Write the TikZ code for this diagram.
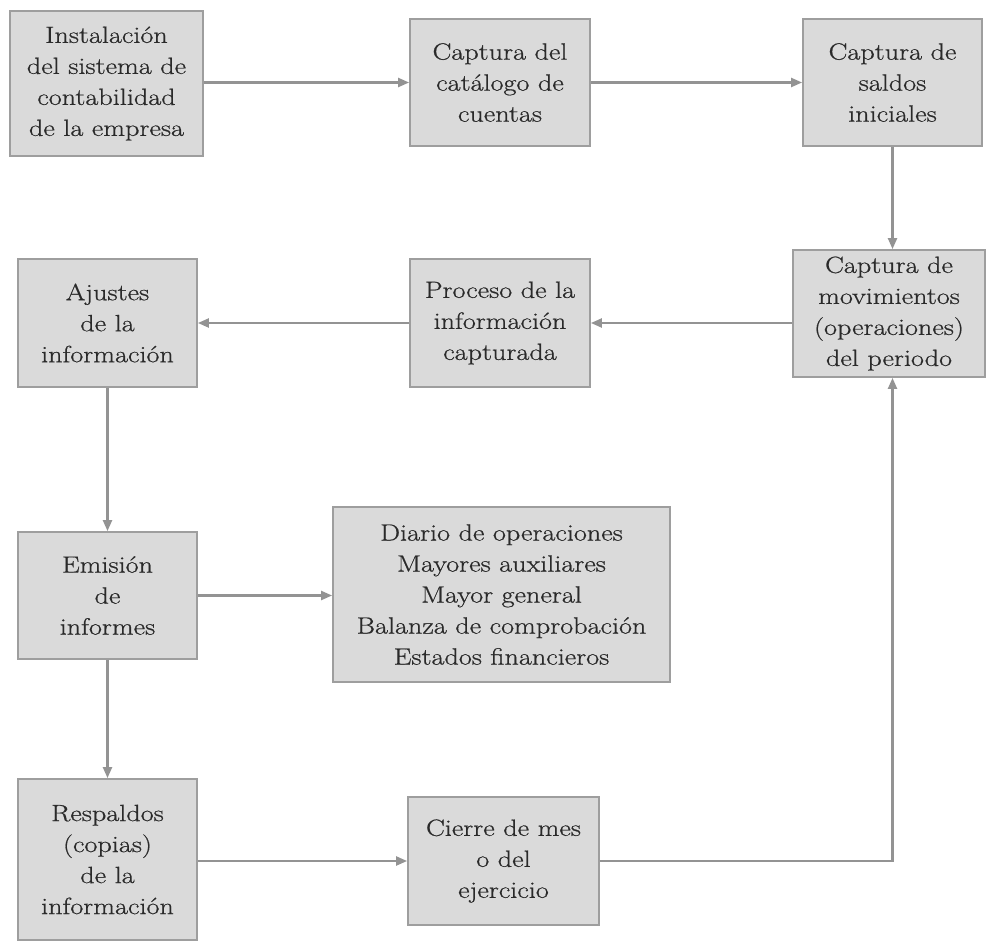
\documentclass[tikz,border=0pt]{standalone}
\usepackage{fontspec}
\newfontfamily\boxfont{Latin Modern Roman}[FakeStretch=1.2, FakeBold=0.7]
\usetikzlibrary{arrows.meta}
\definecolor{boxfill}{HTML}{DADADA}
\definecolor{boxline}{HTML}{9E9E9E}
\definecolor{arrowcol}{HTML}{939393}
\definecolor{txtcol}{HTML}{2A2A2A}
\begin{document}
\begin{tikzpicture}[x=1pt,y=-1pt,
  box/.style={draw=boxline, line width=1.8pt, fill=boxfill, inner sep=0pt,
    align=center, text=txtcol, font=\boxfont\fontsize{23.5}{31}\selectfont},
  conn/.style={draw=arrowcol, line width=2.2pt,
    -{Triangle[length=11pt,width=9pt]}}]
\useasboundingbox (0,0) rectangle (987,941);
\node[box, minimum width=193pt, minimum height=145pt] (A) at (106.5,83.5)
  {Instalación\\del sistema de\\contabilidad\\de la empresa};
\node[box, minimum width=180pt, minimum height=127pt] (B) at (500,82.5)
  {Captura del\\catálogo de\\cuentas};
\node[box, minimum width=179pt, minimum height=127pt] (C) at (892.5,82.5)
  {Captura de\\saldos\\iniciales};
\node[box, minimum width=192pt, minimum height=127pt] (D) at (889,313.5)
  {Captura de\\movimientos\\(operaciones)\\del periodo};
\node[box, minimum width=180pt, minimum height=128pt] (E) at (500,323)
  {Proceso de la\\información\\capturada};
\node[box, minimum width=179pt, minimum height=128pt] (F) at (107.5,323)
  {Ajustes\\de la\\información};
\node[box, minimum width=179pt, minimum height=127pt] (G) at (107.5,595.5)
  {Emisión\\de\\informes};
\node[box, minimum width=337pt, minimum height=175pt] (H) at (501.5,594.5)
  {Diario de operaciones\\Mayores auxiliares\\Mayor general\\Balanza de comprobación\\Estados financieros};
\node[box, minimum width=179pt, minimum height=161pt] (I) at (107.5,859.5)
  {Respaldos\\(copias)\\de la\\información};
\node[box, minimum width=191pt, minimum height=128pt] (J) at (503.5,861)
  {Cierre de mes\\o del\\ejercicio};
\draw[conn] (A.east |- B.west) -- (B.west);
\draw[conn] (B.east) -- (C.west);
\draw[conn] (C.south) -- (C.south |- D.north);
\draw[conn] (D.west |- E.east) -- (E.east);
\draw[conn] (E.west) -- (F.east);
\draw[conn] (F.south) -- (G.north);
\draw[conn] (G.east) -- (G.east -| H.west);
\draw[conn] (G.south) -- (I.north);
\draw[conn] (I.east |- J.west) -- (J.west);
\draw[conn] (J.east) -| (D.south -| C.south);
\end{tikzpicture}
\end{document}
